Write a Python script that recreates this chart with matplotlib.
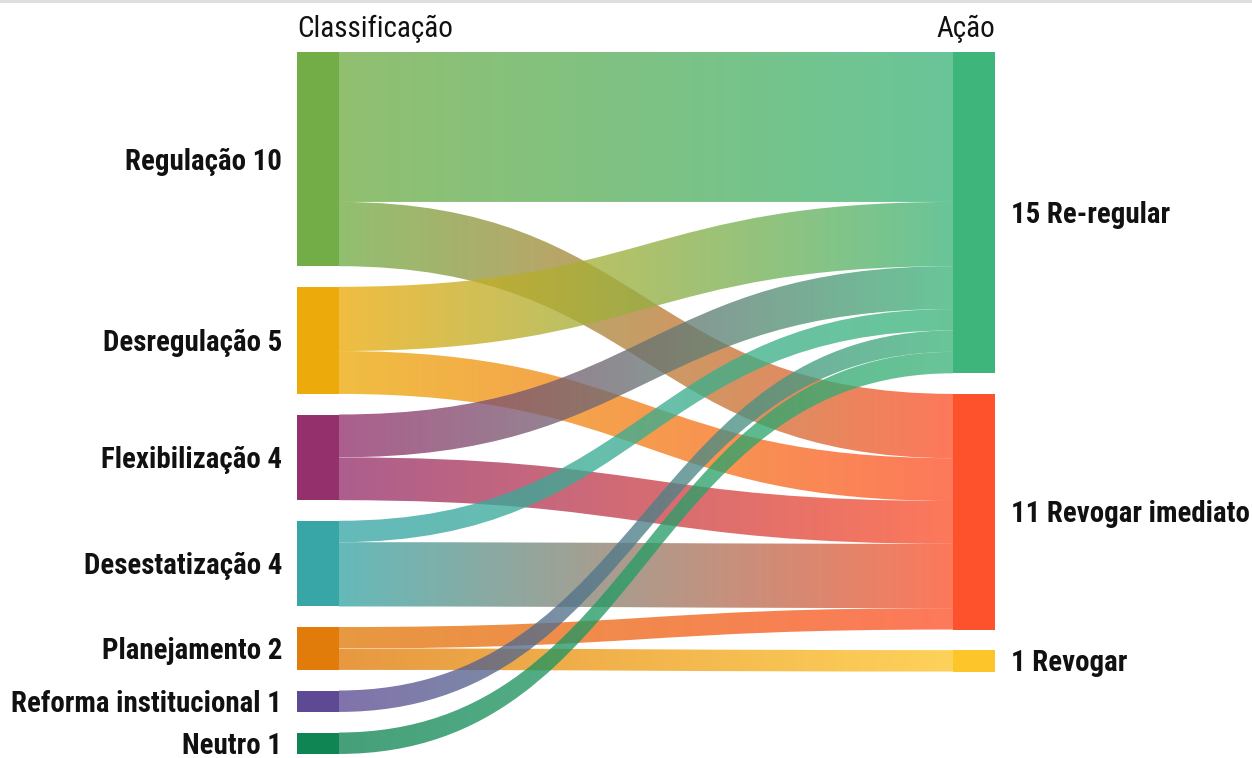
import matplotlib
matplotlib.use("Agg")
import matplotlib.pyplot as plt
import numpy as np
from matplotlib.path import Path
from matplotlib.patches import PathPatch, Rectangle
from matplotlib.colors import to_rgb

# ---------------- data ----------------
left_names = ["Regulação", "Desregulação", "Flexibilização", "Desestatização",
              "Planejamento", "Reforma institucional", "Neutro"]
left_colors = ["#72ad47", "#ecab0b", "#94306c", "#38a6a6", "#e17b09", "#5e4a94", "#108554"]
right_names = ["Re-regular", "Revogar imediato", "Revogar"]
right_colors = ["#3eb57b", "#fd522b", "#fec52a"]

# flows: (source index, target index, value)
flow_source = [0, 0, 1, 1, 2, 2, 3, 3, 4, 4, 5, 6]
flow_target = [0, 1, 0, 1, 0, 1, 0, 1, 1, 2, 0, 0]
flow_value = [7, 3, 3, 2, 2, 2, 1, 3, 1, 1, 1, 1]

left_title = "Classificação"
right_title = "Ação"

# ---------------- layout ----------------
W, H = 1252, 758
fig = plt.figure(figsize=(W / 100, H / 100), dpi=100)
ax = fig.add_axes([0, 0, 1, 1])
ax.set_xlim(0, W)
ax.set_ylim(H, 0)
ax.axis("off")

font_bold = ["Roboto Condensed", "Liberation Sans Narrow", "Roboto", "DejaVu Sans"]

y_start = 52.0
unit = 21.42
gap = 20.6
lx0, lx1 = 297, 339
rx0, rx1 = 953, 995
fs = 20.8
cap = 0.36 * fs * 100 / 72  # half cap height in px

left_vals = [sum(v for s, v in zip(flow_source, flow_value) if s == i) for i in range(len(left_names))]
right_vals = [sum(v for t, v in zip(flow_target, flow_value) if t == j) for j in range(len(right_names))]

def stack(vals):
    tops = []
    y = y_start
    for v in vals:
        tops.append(y)
        y += v * unit + gap
    return tops

left_tops = stack(left_vals)
right_tops = stack(right_vals)

# top grey border
ax.plot([0, W], [1, 1], color="#dddddd", lw=2, zorder=0)

# ---------------- links ----------------
n = len(flow_value)
order_src = sorted(range(n), key=lambda k: (flow_source[k], flow_target[k]))
src_pos = [None] * n
cur = list(left_tops)
for k in order_src:
    s = flow_source[k]
    src_pos[k] = cur[s]
    cur[s] += flow_value[k] * unit
order_tgt = sorted(range(n), key=lambda k: (flow_target[k], flow_source[k]))
tgt_pos = [None] * n
cur = list(right_tops)
for k in order_tgt:
    t = flow_target[k]
    tgt_pos[k] = cur[t]
    cur[t] += flow_value[k] * unit

xm = (lx1 + rx0) / 2
alpha = 0.78
for k in range(n):
    h = flow_value[k] * unit
    sy0, ty0 = src_pos[k], tgt_pos[k]
    sy1, ty1 = sy0 + h, ty0 + h
    verts = [(lx1, sy0), (xm, sy0), (xm, ty0), (rx0, ty0),
             (rx0, ty1), (xm, ty1), (xm, sy1), (lx1, sy1), (lx1, sy0)]
    codes = [Path.MOVETO, Path.CURVE4, Path.CURVE4, Path.CURVE4,
             Path.LINETO, Path.CURVE4, Path.CURVE4, Path.CURVE4, Path.CLOSEPOLY]
    path = Path(verts, codes)
    patch = PathPatch(path, facecolor="none", edgecolor="none")
    ax.add_patch(patch)
    c0 = np.array(to_rgb(left_colors[flow_source[k]]))
    c1 = np.array(to_rgb(right_colors[flow_target[k]]))
    t = np.linspace(0, 1, 256)[None, :, None]
    grad = c0[None, None, :] * (1 - t) + c1[None, None, :] * t
    rgba = np.concatenate([grad, np.full((1, 256, 1), alpha)], axis=2)
    ymin, ymax = min(sy0, ty0), max(sy1, ty1)
    im = ax.imshow(rgba, extent=(lx1, rx0, ymax, ymin), aspect="auto",
                   interpolation="bilinear", zorder=1)
    im.set_clip_path(patch)

# ---------------- nodes ----------------
for i, name in enumerate(left_names):
    h = left_vals[i] * unit
    ax.add_patch(Rectangle((lx0, left_tops[i]), lx1 - lx0, h,
                           facecolor=left_colors[i], edgecolor="none", zorder=2))
    ax.text(lx0 - 15, left_tops[i] + h / 2 + cap, f"{name} {left_vals[i]}",
            ha="right", va="baseline", fontsize=fs, fontweight="bold",
            family=font_bold, color="#111111")

for j, name in enumerate(right_names):
    h = right_vals[j] * unit
    ax.add_patch(Rectangle((rx0, right_tops[j]), rx1 - rx0, h,
                           facecolor=right_colors[j], edgecolor="none", zorder=2))
    ax.text(rx1 + 16, right_tops[j] + h / 2 + cap, f"{right_vals[j]} {name}",
            ha="left", va="baseline", fontsize=fs, fontweight="bold",
            family=font_bold, color="#111111")

ax.text(lx0, 37, left_title, ha="left", va="baseline", fontsize=21,
        fontweight="normal", family=font_bold, color="#111111")
ax.text(rx1, 37, right_title, ha="right", va="baseline", fontsize=21,
        fontweight="normal", family=font_bold, color="#111111")

fig.savefig("out.png", dpi=100)
